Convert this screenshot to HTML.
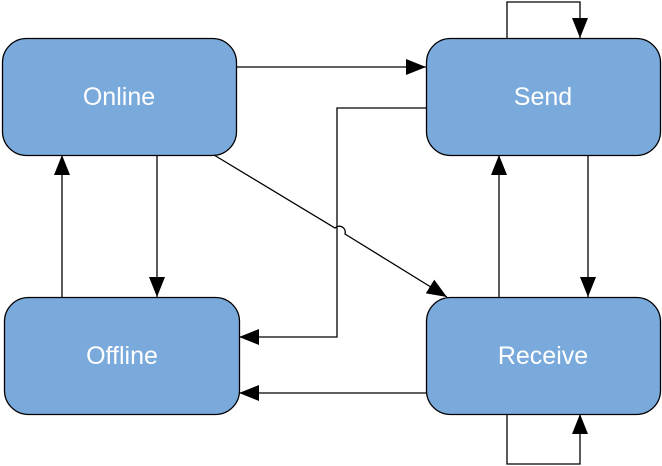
<!DOCTYPE html>
<html><head><meta charset="utf-8"><style>
html,body{margin:0;padding:0;background:#fff;}
svg{display:block;}
text{font-family:"Liberation Sans",sans-serif;font-size:25px;fill:#fff;text-anchor:middle;dominant-baseline:central;}
</style></head><body>
<svg width="662" height="466" viewBox="0 0 662 466">
<defs>
<marker id="a" viewBox="0 0 20 16" refX="20" refY="8" markerWidth="20" markerHeight="16" markerUnits="userSpaceOnUse" orient="auto">
<path d="M0,0 L20,8 L0,16 Z" fill="#000"/>
</marker>
</defs>
<g fill="#7aaadb" stroke="#000" stroke-width="1.3">
<rect x="2.5" y="38.5" width="234" height="117" rx="24"/>
<rect x="426.5" y="38.5" width="234" height="117" rx="24"/>
<rect x="4.5" y="297.5" width="235" height="117" rx="24"/>
<rect x="426.5" y="297.5" width="234" height="117" rx="24"/>
</g>
<text x="119" y="97">Online</text>
<text x="543" y="97">Send</text>
<text x="122" y="356">Offline</text>
<text x="543" y="356">Receive</text>
<g fill="none" stroke="#000" stroke-width="1.3">
<path d="M236,67 L426,67" marker-end="url(#a)"/>
<path d="M507,38 L507,2 L580,2 L580,38" marker-end="url(#a)"/>
<path d="M426,108 L337,108 L337,337 L239,337" marker-end="url(#a)"/>
<path d="M214,155 L335,228 A6,6 0 0 1 345,234 L447,297" marker-end="url(#a)"/>
<path d="M157,155 L157,297" marker-end="url(#a)"/>
<path d="M62,297 L62,155" marker-end="url(#a)"/>
<path d="M499,297 L499,155" marker-end="url(#a)"/>
<path d="M588,155 L588,297" marker-end="url(#a)"/>
<path d="M426,393 L239,393" marker-end="url(#a)"/>
<path d="M507,414 L507,464 L580,464 L580,414" marker-end="url(#a)"/>
</g>
</svg>
</body></html>
